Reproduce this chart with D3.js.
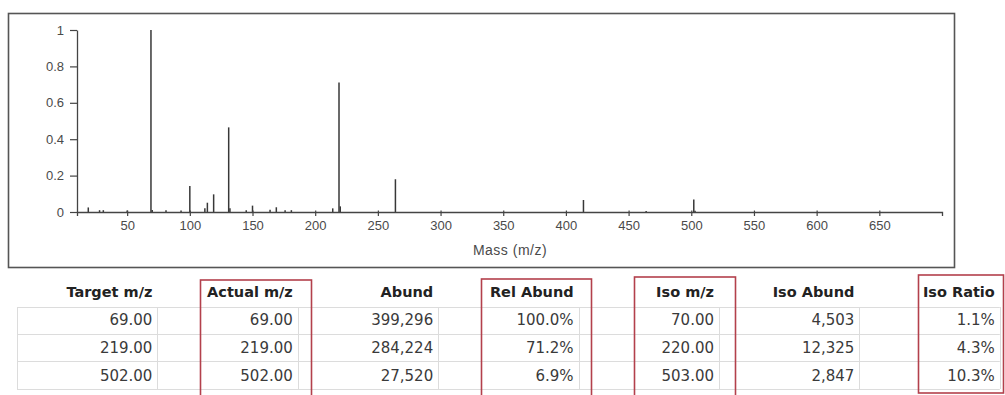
<!DOCTYPE html>
<html>
<head>
<meta charset="utf-8">
<script src="https://cdn.jsdelivr.net/npm/d3@7"></script>
<style>
  html, body { margin: 0; padding: 0; background: #fff; }
  svg { display: block; }
  .tick text { font-family: "Liberation Sans", Arial, sans-serif; font-size: 13px; fill: #4a4a4a; }
</style>
</head>
<body>
<svg id="chart" width="1005" height="395"></svg>
<script>
// Spectrum peaks: m/z and relative intensity (base peak = 1)
const peakMz = [19, 28, 31, 50, 69, 70, 81, 93, 100, 112, 114, 119, 131, 132, 145, 150, 164, 169, 176, 181, 214, 219, 220, 264, 414, 464, 502, 503];
const peakRel = [0.025, 0.01, 0.01, 0.008, 1.0, 0.011, 0.01, 0.008, 0.143, 0.02, 0.051, 0.097, 0.465, 0.02, 0.01, 0.035, 0.012, 0.026, 0.01, 0.01, 0.02, 0.712, 0.031, 0.18, 0.066, 0.006, 0.069, 0.007];

// Axis ticks
const xTicks = [50, 100, 150, 200, 250, 300, 350, 400, 450, 500, 550, 600, 650];
const yTicks = [0, 0.2, 0.4, 0.6, 0.8, 1];
const yTickLabels = ["0", "0.2", "0.4", "0.6", "0.8", "1"];

// Tune report table
const tableHeaders = ["Target m/z", "Actual m/z", "Abund", "Rel Abund", "Iso m/z", "Iso Abund", "Iso Ratio"];
const targetMz = ["69.00", "219.00", "502.00"];
const actualMz = ["69.00", "219.00", "502.00"];
const abund = ["399,296", "284,224", "27,520"];
const relAbund = ["100.0%", "71.2%", "6.9%"];
const isoMz = ["70.00", "220.00", "503.00"];
const isoAbund = ["4,503", "12,325", "2,847"];
const isoRatio = ["1.1%", "4.3%", "10.3%"];
const tableColumns = [targetMz, actualMz, abund, relAbund, isoMz, isoAbund, isoRatio];
// Columns outlined in red
const highlighted = [1, 3, 4, 6];

const svg = d3.select("#chart");

// ---- spectrum panel ----
svg.append("rect")
  .attr("x", 8.5).attr("y", 13.5)
  .attr("width", 946).attr("height", 254)
  .attr("fill", "none").attr("stroke", "#555").attr("stroke-width", 1.6);

const x = d3.scaleLinear().domain([10, 700]).range([77, 942]);
const y = d3.scaleLinear().domain([0, 1]).range([212, 30]);

// peaks as sticks
svg.append("g")
  .selectAll("line")
  .data(peakMz.map((m, i) => ({ m, v: peakRel[i] })))
  .join("line")
  .attr("x1", d => x(d.m)).attr("x2", d => x(d.m))
  .attr("y1", y(0)).attr("y2", d => y(d.v))
  .attr("stroke", "#383838").attr("stroke-width", 1.5);

const xAxis = svg.append("g")
  .attr("transform", `translate(0,${y(0)})`)
  .call(d3.axisBottom(x).tickValues(xTicks).tickSize(4).tickSizeOuter(4).tickPadding(5));
xAxis.selectAll(".tick line").attr("y1", -1.5);
xAxis.select(".domain").attr("stroke", "#444").attr("stroke-width", 1.3);
xAxis.selectAll(".tick line").attr("stroke", "#444").attr("stroke-width", 1.2);

const yAxis = svg.append("g")
  .attr("transform", `translate(${x(10)},0)`)
  .call(d3.axisLeft(y).tickValues(yTicks).tickFormat((d, i) => yTickLabels[i]).tickSize(7).tickSizeOuter(0).tickPadding(6));
yAxis.select(".domain").attr("stroke", "#444").attr("stroke-width", 1.3);
yAxis.selectAll(".tick line").attr("stroke", "#444").attr("stroke-width", 1.2);

svg.append("text")
  .attr("x", 510).attr("y", 255)
  .attr("text-anchor", "middle")
  .style("font-family", "'Liberation Sans', Arial, sans-serif")
  .style("font-size", "14px")
  .style("letter-spacing", "0.5px")
  .attr("fill", "#4a4a4a")
  .text("Mass (m/z)");

// ---- table ----
const colLeft = 17, colW = 140.4;
const headerBase = 297;
const rowLines = [307, 334, 361, 389];
const rowBase = [325, 353, 381];

const grid = svg.append("g").attr("stroke", "#dcdcdc").attr("stroke-width", 1);
rowLines.forEach(ly => {
  grid.append("line").attr("x1", colLeft).attr("x2", colLeft + colW * 7)
    .attr("y1", ly + 0.5).attr("y2", ly + 0.5);
});
d3.range(8).forEach(i => {
  const lx = Math.round(colLeft + colW * i) + 0.5;
  grid.append("line").attr("x1", lx).attr("x2", lx)
    .attr("y1", rowLines[0]).attr("y2", rowLines[rowLines.length - 1]);
});

tableHeaders.forEach((h, i) => {
  svg.append("text")
    .attr("x", colLeft + colW * (i + 1) - 5).attr("y", headerBase)
    .attr("text-anchor", "end")
    .style("font-family", "'DejaVu Sans', Verdana, sans-serif")
    .style("font-size", "14.5px").style("font-weight", "bold")
    .attr("fill", "#222")
    .text(h);
});

tableColumns.forEach((col, i) => {
  col.forEach((v, r) => {
    svg.append("text")
      .attr("x", colLeft + colW * (i + 1) - 5).attr("y", rowBase[r])
      .attr("text-anchor", "end")
      .style("font-family", "'DejaVu Sans', Verdana, sans-serif")
      .style("font-size", "15px")
      .attr("fill", "#3a3a3a")
      .text(v);
  });
});

// red outlines around selected columns
const boxes = [
  { col: 1, x0: 200.5, x1: 311.5, top: 280, bottom: 400 },
  { col: 3, x0: 481.5, x1: 591.5, top: 279, bottom: 400 },
  { col: 4, x0: 634.5, x1: 735.5, top: 277, bottom: 400 },
  { col: 6, x0: 918.5, x1: 1003.5, top: 275, bottom: 393 }
].filter(b => highlighted.includes(b.col));
svg.append("g")
  .selectAll("rect")
  .data(boxes)
  .join("rect")
  .attr("x", d => d.x0).attr("y", d => d.top)
  .attr("width", d => d.x1 - d.x0).attr("height", d => d.bottom - d.top)
  .attr("fill", "none").attr("stroke", "#b3404c").attr("stroke-width", 1.6);
</script>
</body>
</html>
